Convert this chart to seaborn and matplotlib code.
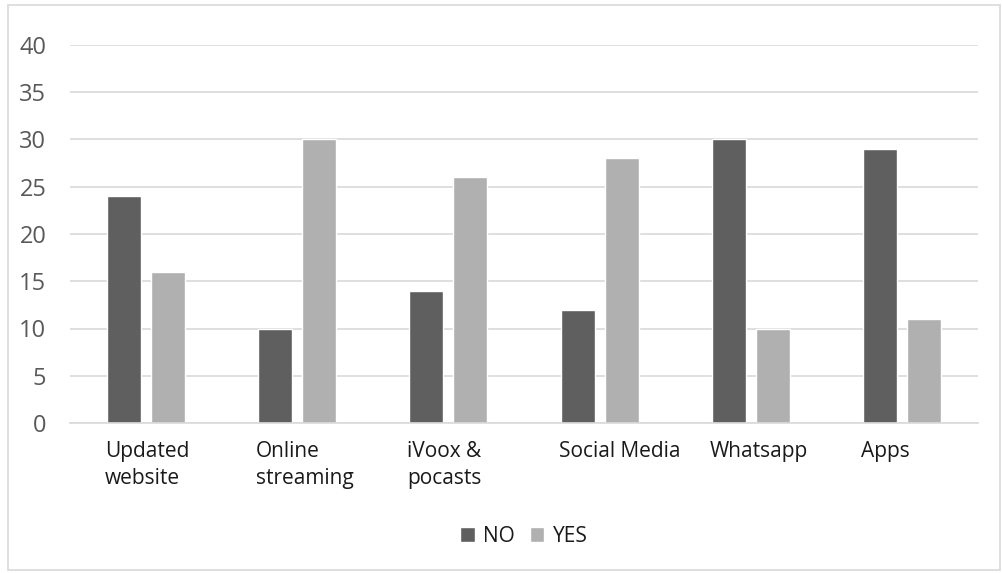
import matplotlib
matplotlib.use("Agg")
import matplotlib.pyplot as plt
import seaborn as sns
import pandas as pd
from matplotlib.patches import Rectangle

categories = ["Updated\nwebsite", "Online\nstreaming", "iVoox &\npocasts", "Social Media", "Whatsapp", "Apps"]
no_values = [24, 10, 14, 12, 30, 29]
yes_values = [16, 30, 26, 28, 10, 11]
series = ["NO", "YES"]
yticks = [0, 5, 10, 15, 20, 25, 30, 35, 40]

df = pd.DataFrame({
    "category": categories * 2,
    "value": no_values + yes_values,
    "series": [series[0]] * len(categories) + [series[1]] * len(categories),
})

sns.set_theme(style="white")
plt.rcParams["font.family"] = ["Open Sans", "DejaVu Sans"]

fig = plt.figure(figsize=(10.03, 5.73), dpi=100)
ax = fig.add_axes([70/1003, 1-423/573, (978-70)/1003, (423-45)/573])

sns.barplot(data=df, x="category", y="value", hue="series", order=categories,
            hue_order=series, palette=["#5f5f5f", "#b0b0b0"], width=0.58, gap=0.227,
            ax=ax, legend=True, saturation=1)

ax.set_ylim(0, 40)
ax.set_xlim(-0.5, len(categories) - 0.5)
ax.set_yticks(yticks)
ax.set_yticklabels([str(v) for v in yticks], fontsize=17, color="#595959")
ax.yaxis.grid(True, color="#d9d9d9", linewidth=1.2)
ax.set_axisbelow(True)
for s in ["top", "right", "left"]:
    ax.spines[s].set_visible(False)
ax.spines["bottom"].set_color("#d9d9d9")
ax.spines["bottom"].set_linewidth(1.2)
ax.tick_params(axis="both", length=0)
ax.tick_params(axis="y", pad=17)
ax.set_xticks([i - 0.27 for i in range(len(categories))])
ax.set_xticklabels(categories, fontsize=15, color="#1a1a1a", ha="left", linespacing=1.4)
ax.tick_params(axis="x", pad=13)
ax.set_xlabel("")
ax.set_ylabel("")

leg = ax.legend(loc="center", bbox_to_anchor=(524/1003, 1-536/573), bbox_transform=fig.transFigure,
                ncol=2, frameon=False, fontsize=15, handlelength=0.7, handleheight=0.7,
                handletextpad=0.4, columnspacing=0.7)
for t in leg.get_texts():
    t.set_color("#1a1a1a")

fig.patches.append(Rectangle((8/1003, 1-570/573), (1000-8)/1003, (570-5)/573,
                             transform=fig.transFigure, fill=False, edgecolor="#d9d9d9", linewidth=1.2))

fig.savefig("out.png", dpi=100)
